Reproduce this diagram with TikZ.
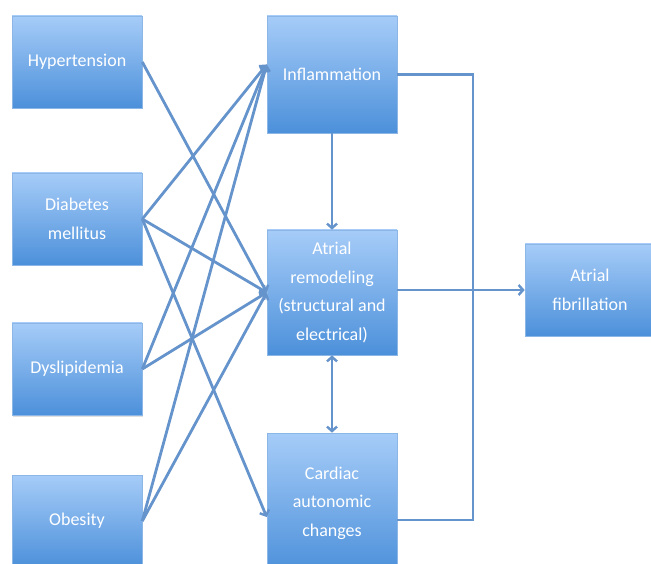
\documentclass[tikz,border=0pt]{standalone}
\usepackage{fontspec}
\setmainfont{Carlito}
\usetikzlibrary{arrows.meta,calc,shadows}

\definecolor{boxtop}{HTML}{A6CCF8}
\definecolor{boxbot}{HTML}{4C90DA}
\definecolor{boxedge}{HTML}{8CB6E6}
\definecolor{linkcol}{HTML}{6593CB}

\tikzset{
    factor/.style={draw=boxedge, line width=0.6pt, top color=boxtop, bottom color=boxbot,
        text=white, align=center, font=\fontsize{18}{28.5}\selectfont,
        minimum width=130pt, inner sep=2pt,
        drop shadow={opacity=0.25, shadow xshift=1pt, shadow yshift=-1.5pt}},
    link/.style={draw=linkcol, line width=2.8pt},
    arrow/.style={link, -{Straight Barb[length=4.5pt,width=10pt,line width=2.4pt]}},
    twoway/.style={link, {Straight Barb[length=4.5pt,width=10pt,line width=2.4pt]}-{Straight Barb[length=4.5pt,width=10pt,line width=2.4pt]}}
}

\begin{document}
\begin{tikzpicture}[x=1pt, y=1pt]
    \useasboundingbox (0,0) rectangle (651,563);
    \clip (0,0) rectangle (651,563);

    % Risk factors (left column)
    \node[factor, minimum height=92pt] (hyp) at (77,501) {Hypertension};
    \node[factor, minimum height=92pt] (dia) at (77,344) {Diabetes\\mellitus};
    \node[factor, minimum height=92pt] (dys) at (77,194) {Dyslipidemia};
    \node[factor, minimum height=92pt] (obe) at (77,42) {Obesity};

    % Mechanisms (middle column)
    \node[factor, minimum height=117pt] (infl) at (332,488.5) {Inflammation};
    \node[factor, minimum height=125pt] (remod) at (332,270.5) {Atrial\\remodeling\\(structural and\\electrical)};
    \node[factor, minimum height=140pt] (card) at (332,60) {Cardiac\\autonomic\\changes};

    % Outcome
    \node[factor, minimum height=92pt] (af) at (590,273) {Atrial\\fibrillation};

    % Entry and exit points on the mechanism boxes
    \coordinate (infl-in) at ($(infl.west)+(0,10)$);
    \coordinate (card-in) at ($(card.west)+(0,-14)$);
    \coordinate (card-out) at ($(card.east)+(0,-17)$);
    \coordinate (bus) at (473,0);

    % Risk factors to mechanisms
    \foreach \src/\dst in {hyp/remod.west, dia/infl-in, dia/remod.west, dia/card-in,
                           dys/infl-in, dys/remod.west, obe/infl-in, obe/remod.west} {
        \draw[arrow] (\src.east) -- (\dst);
    }

    % Between mechanisms
    \draw[arrow] (infl.south) -- (remod.north);
    \draw[twoway] (remod.south) -- (card.north);

    % Mechanisms to atrial fibrillation
    \draw[link] (infl.east) -| (bus |- card-out) -- (card-out);
    \draw[arrow] (remod.east |- af.west) -- (af.west);
\end{tikzpicture}
\end{document}
